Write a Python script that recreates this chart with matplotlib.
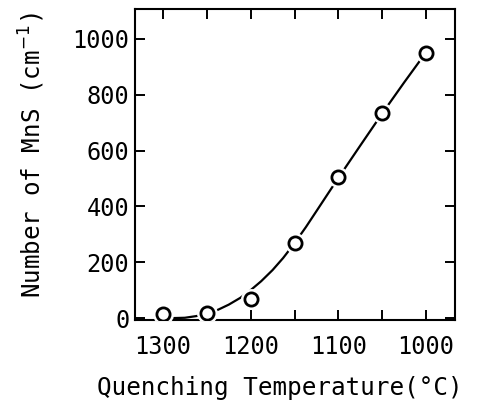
''' MnS count vs quenching temperature '''
import matplotlib
matplotlib.use('Agg')
import matplotlib.pyplot as plt

# measured points
temp = [1300, 1250, 1200, 1150, 1100, 1050, 1000]
count = [14, 19, 68, 270, 504, 734, 951]

# fitted curve
curve_t = [1287, 1275, 1262, 1250, 1237, 1225, 1212, 1200, 1188, 1175,
           1163, 1150, 1137, 1125, 1112, 1100, 1075, 1050, 1025, 1000]
curve_n = [0, 1, 7, 16, 30, 48, 72, 100, 132, 172,
           215, 268, 326, 383, 445, 502, 618, 733, 844, 952]

x_ticks = [1300, 1200, 1100, 1000]
y_ticks = [0, 200, 400, 600, 800, 1000]


def main():
    ''' draw and save '''
    plt.rcParams['font.family'] = ['DejaVu Sans Mono']
    fig = plt.figure(figsize=(4.8, 4.0), dpi=100)
    ax = fig.add_axes([0.281, 0.2, 0.667, 0.7775])

    ax.plot(curve_t, curve_n, color='black', lw=1.6, zorder=2)
    # white halo so the curve breaks around each circle
    ax.plot(temp, count, 'o', ms=14, mfc='white', mec='white', zorder=3)
    ax.plot(temp, count, 'o', ms=9.5, mfc='white', mec='black', mew=2.0,
            zorder=4)

    ax.set_xlim(1332, 967)
    ax.set_ylim(-7, 1107)
    ax.set_xticks(x_ticks)
    ax.set_xticks([1250, 1150, 1050], minor=True)
    ax.set_yticks(y_ticks)

    ax.tick_params(which='both', direction='in', top=True, right=True,
                   length=7, width=1.4, labelsize=17)
    ax.tick_params(axis='x', pad=11)
    ax.tick_params(axis='y', pad=4)
    for s in ax.spines.values():
        s.set_linewidth(1.5)

    ax.set_xlabel('Quenching Temperature(°C)', fontsize=17.5)
    ax.set_ylabel('Number of MnS (cm$^{-1}$)', fontsize=17.5)
    ax.xaxis.set_label_coords(0.453, -0.18)
    ax.yaxis.set_label_coords(-0.275, 0.53)

    fig.savefig('out.png', dpi=100)


if __name__ == '__main__':
    main()
